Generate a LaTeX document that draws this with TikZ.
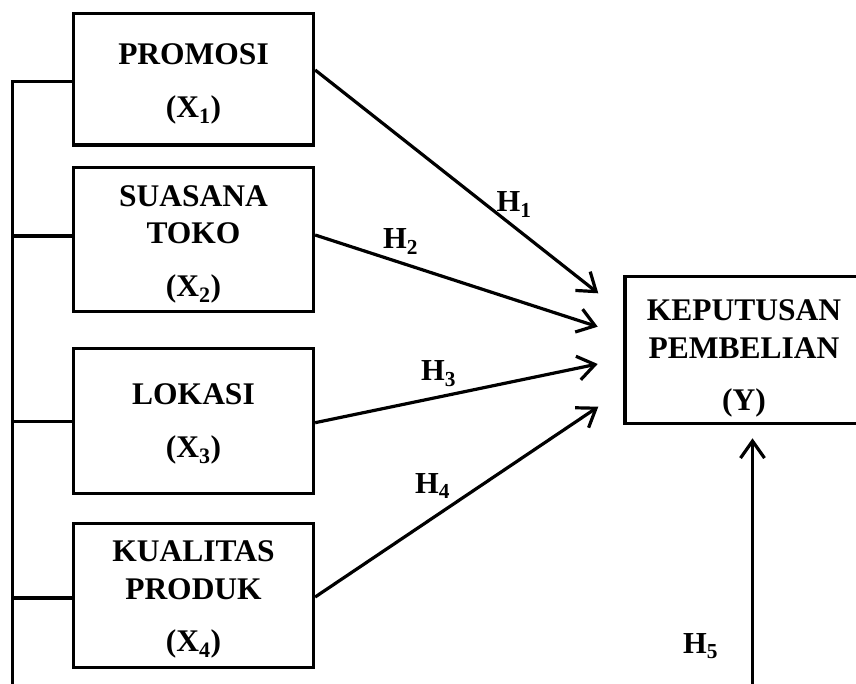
\documentclass[tikz,border=0pt]{standalone}
\usepackage{fontspec}
\setmainfont{Liberation Serif}
\usetikzlibrary{arrows.meta}
\begin{document}
\begin{tikzpicture}[x=1pt,y=-1pt,
  box/.style={draw,line width=3.3pt,rectangle,inner sep=0pt,minimum width=240pt},
  txt/.style={align=center,inner sep=0pt,anchor=north,font=\bfseries\fontsize{31.5}{37.5}\selectfont},
  hlab/.style={inner sep=0pt,anchor=base,font=\bfseries\fontsize{30.5}{36}\selectfont},
  conn/.style={line width=3.2pt},
  arr/.style={line width=3.2pt,-{Straight Barb[length=17pt,width=24pt]}}]
\useasboundingbox (0,0) rectangle (856,684);
% boxes
\node[box,minimum height=131.5pt] (b1) at (193.5,79.25) {};
\node[box,minimum height=144pt] (b2) at (193.5,239.5) {};
\node[box,minimum height=145pt] (b3) at (193.5,421) {};
\node[box,minimum height=144pt] (b4) at (193.5,595.5) {};
\node[box,minimum width=238pt,minimum height=147pt] (by) at (744,350) {};
% texts
\node[txt] (t1) at (193.5,43.5) {PROMOSI\\[15pt](X\textsubscript{1})};
\node[txt] (t2) at (193.5,185.3) {SUASANA\\TOKO\\[15pt](X\textsubscript{2})};
\node[txt] (t3) at (193.5,383.5) {LOKASI\\[15pt](X\textsubscript{3})};
\node[txt] (t4) at (193.5,540.5) {KUALITAS\\PRODUK\\[15pt](X\textsubscript{4})};
\node[txt] (ty) at (744,299.5) {KEPUTUSAN\\PEMBELIAN\\[15pt](Y)};
% bus on the left
\coordinate (bustop) at (12.5,81.7);
\coordinate (busbot) at (12.5,690);
\draw[conn,line join=miter] (b1.west |- bustop) -- (bustop) -- (busbot);
\draw[conn] (b2.west |- 0,236) -- (bustop |- 0,236);
\draw[conn] (b3.west |- 0,421.7) -- (bustop |- 0,421.7);
\draw[conn] (b4.west |- 0,598) -- (bustop |- 0,598);
% arrow ends
\coordinate (e1) at (598.3,293.3);
\coordinate (e2) at (597.7,326.7);
\coordinate (e3) at (597.7,364);
\coordinate (e4) at (598.3,406.7);
\coordinate (e5) at (752.5,438.3);
\coordinate (s5) at (752.5,690);
\draw[arr] (b1.east |- 0,70) -- (e1);
\draw[arr] (b2.east |- 0,235) -- (e2);
\draw[arr] (b3.east |- 0,422.7) -- (e3);
\draw[arr] (b4.east |- 0,597) -- (e4);
\draw[arr] (s5) -- (e5);
% labels
\node[hlab] (h1) at (514,211.7) {H\textsubscript{1}};
\node[hlab] (h2) at (400.5,249) {H\textsubscript{2}};
\node[hlab] (h3) at (438.5,380.7) {H\textsubscript{3}};
\node[hlab] (h4) at (432.5,493) {H\textsubscript{4}};
\node[hlab] (h5) at (700.5,653) {H\textsubscript{5}};
\end{tikzpicture}
\end{document}
